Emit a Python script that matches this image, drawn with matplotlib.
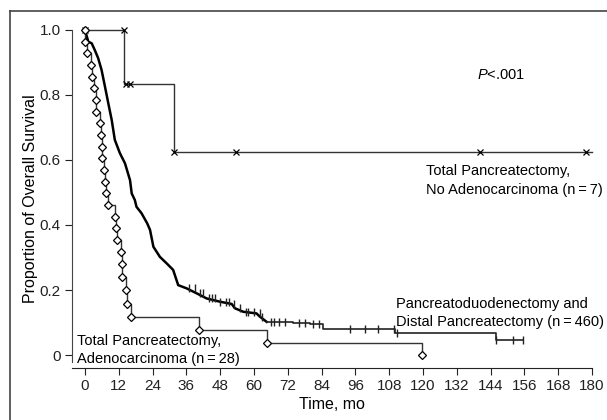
import numpy as np
import matplotlib
matplotlib.use('Agg')
import matplotlib.pyplot as plt
from matplotlib.lines import Line2D

plt.rcParams['font.family'] = ['Liberation Sans', 'DejaVu Sans']
plt.rcParams['mathtext.fontset'] = 'custom'
plt.rcParams['mathtext.it'] = 'Liberation Sans:italic'
plt.rcParams['mathtext.rm'] = 'Liberation Sans'

# Pancreatoduodenectomy and Distal Pancreatectomy (n=460)
pd_time = [0, 1.2, 2.4, 3.5, 4.7, 5.9, 7.1, 8.3, 9.5, 10.6, 12.4, 14.2, 16.0, 16.6,
           17.7, 18.3, 20.1, 22.1, 23.1, 24.3, 26.6, 29.0, 31.3, 33.1, 36.1, 39.6,
           43.2, 47.9, 52.1, 53.2, 56.2, 60.9, 62.1, 64.5, 74.0, 79.9, 84.4, 110.0,
           146.0, 155.6]
pd_surv = [1.0, 0.964, 0.959, 0.938, 0.913, 0.877, 0.826, 0.774, 0.723, 0.662, 0.621,
           0.59, 0.538, 0.497, 0.477, 0.456, 0.436, 0.405, 0.385, 0.333, 0.302, 0.282,
           0.262, 0.215, 0.205, 0.19, 0.174, 0.164, 0.157, 0.144, 0.133, 0.128, 0.118,
           0.102, 0.099, 0.095, 0.081, 0.067, 0.046, 0.046]
pd_censor = [37, 39, 41, 42, 44, 45, 46, 48, 50, 51, 53, 55, 57, 58, 60, 62, 63, 66,
             67, 69, 71, 76, 78, 81, 83, 94, 99.4, 104, 109.8, 110.6, 146, 152, 155.6]

# Total Pancreatectomy, Adenocarcinoma (n=28)
tp_ad_time = [0, 0, 0.8, 2.1, 2.6, 3.3, 3.8, 3.9, 5.2, 5.6, 5.9, 6.1, 6.6, 7.0, 7.4,
              8.3, 10.6, 10.9, 11.5, 12.8, 13.0, 13.2, 14.4, 14.8, 16.2, 40.6, 64.6, 119.6]
tp_ad_surv = [1.0, 0.964, 0.928, 0.892, 0.856, 0.82, 0.785, 0.749, 0.713, 0.677, 0.641,
              0.605, 0.569, 0.533, 0.497, 0.461, 0.426, 0.39, 0.354, 0.318, 0.279, 0.239,
              0.2, 0.157, 0.118, 0.077, 0.036, 0.0]

# Total Pancreatectomy, No Adenocarcinoma (n=7)
tp_no_time = [0, 14.0, 31.7, 180]
tp_no_surv = [1.0, 0.833, 0.625, 0.625]
tp_no_marks = [0, 14.0, 14.5, 16.0, 31.7, 53.6, 140.2, 178.0]

fig = plt.figure(figsize=(6.07, 4.2), dpi=100)
ax = fig.add_axes([0.1186, 0.1238, 0.8567, 0.8048])

line_col = '#333333'

# main curve: smooth early part, steps in the tail
k = pd_time.index(64.5)
ax.plot(pd_time[:k + 1], pd_surv[:k + 1], color='black', lw=1.8, clip_on=False)
ax.step(pd_time[k:], pd_surv[k:], where='post', color='#222222', lw=1.2)
cy = [pd_surv[np.searchsorted(pd_time, c, side='right') - 1] for c in pd_censor]
ax.plot(pd_censor, cy, ls='none', marker='|', ms=6, mew=1.0, color='#222222')

# adenocarcinoma
ax.step(tp_ad_time, tp_ad_surv, where='post', color=line_col, lw=1.0, clip_on=False)
ax.plot(tp_ad_time, tp_ad_surv, ls='none', marker='D', ms=4.5, mfc='white',
        mec='black', mew=0.9, clip_on=False, zorder=5)

# no adenocarcinoma
ax.step(tp_no_time, tp_no_surv, where='post', color=line_col, lw=1.0, clip_on=False)
my = [tp_no_surv[np.searchsorted(tp_no_time, c, side='right') - 1] for c in tp_no_marks]
my[1] = 1.0
ax.plot(tp_no_marks, my, ls='none', marker='x', ms=4, mew=0.9, color='black',
        clip_on=False, zorder=4)

ax.set_xlim(-4.6, 180)
ax.set_ylim(-0.04, 1.0)
ax.spines['top'].set_visible(False)
ax.spines['right'].set_visible(False)
ax.spines['left'].set_bounds(-0.021, 1.0)
ax.spines['left'].set_color('#444444')
ax.spines['bottom'].set_color('#222222')
ax.set_xticks(np.arange(0, 181, 12))
ax.set_yticks([0, 0.2, 0.4, 0.6, 0.8, 1.0])
ax.set_yticklabels(['0', '0.2', '0.4', '0.6', '0.8', '1.0'])
ax.tick_params(direction='out', length=5, width=0.8, labelsize=11, colors='#222222',
               pad=3)
ax.set_xlabel('Time, mo', fontsize=11.5, labelpad=3)
ax.set_ylabel('Proportion of Overall Survival', fontsize=11.5)
ax.yaxis.set_label_coords(-0.065, 0.5)

fs = 10.5
ax.text(0.779, 0.867, '$P$<.001', transform=ax.transAxes, fontsize=fs, va='center')
ax.text(121.2, 0.537, 'Total Pancreatectomy,\nNo Adenocarcinoma (n\u2009=\u20097)',
        fontsize=fs, va='center', linespacing=1.4)
ax.text(110.5, 0.13, 'Pancreatoduodenectomy and\nDistal Pancreatectomy (n\u2009=\u2009460)',
        fontsize=fs, va='center', linespacing=1.4)
ax.text(-2.8, 0.015, 'Total Pancreatectomy,\nAdenocarcinoma (n\u2009=\u200928)',
        fontsize=fs, va='center', linespacing=1.4)

# frame lines (top and left edge of the figure box)
fig.add_artist(Line2D([10 / 607, 10 / 607], [0, 1 - 11 / 420], color='#444444', lw=1.2))
fig.add_artist(Line2D([10 / 607, 1], [1 - 11 / 420, 1 - 11 / 420], color='#444444', lw=1.2))

fig.savefig('out.png', dpi=100)
